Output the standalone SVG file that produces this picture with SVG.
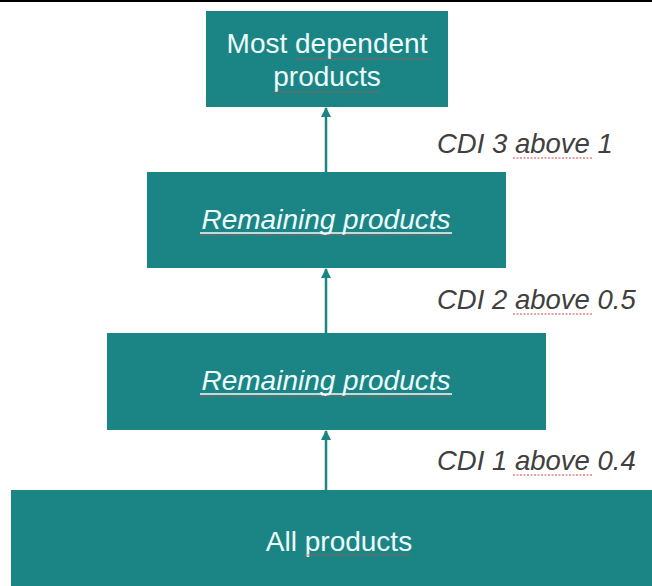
<svg xmlns="http://www.w3.org/2000/svg" width="652" height="586" viewBox="0 0 652 586">
<style>
.box{fill:#1b8585;}
.t{font-family:"Liberation Sans",Arial,sans-serif;font-size:28px;fill:#eefcfc;text-anchor:middle;}
.it{font-style:italic;}
.lbl{font-family:"Liberation Sans",Arial,sans-serif;font-size:27.5px;font-style:italic;fill:#404040;}
.conn{stroke:#1b8585;stroke-width:2.5;fill:none;marker-end:url(#ah);}
.sq{stroke:#d04848;stroke-width:1.2;stroke-dasharray:2 1.5;fill:none;}
.ul{stroke:#eefcfc;stroke-width:1.5;}
</style>
<defs>
<marker id="ah" viewBox="0 0 10 10" refX="9" refY="5" markerWidth="4" markerHeight="4" orient="auto">
<path d="M0,0 L10,5 L0,10 z" fill="#1b8585"/>
</marker>
</defs>
<rect width="652" height="586" fill="#ffffff"/>
<line x1="0" y1="1" x2="652" y2="1" stroke="#000" stroke-width="2"/>
<g id="connectors">
<line class="conn" x1="326" y1="172" x2="326" y2="108"/>
<line class="conn" x1="326" y1="333" x2="326" y2="269"/>
<line class="conn" x1="326" y1="490" x2="326" y2="431"/>
</g>
<g id="node-most">
<rect class="box" x="206" y="11" width="242" height="96"/>
<text class="t" x="327" y="53">Most dependent</text>
<text class="t" x="327" y="86">products</text>
<line class="sq" x1="296" y1="59" x2="430" y2="59"/>
<line class="sq" x1="273" y1="92" x2="381" y2="92"/>
</g>
<g id="node-remaining2">
<rect class="box" x="147" y="172" width="359" height="96"/>
<text class="t it" x="326" y="229">Remaining products</text>
<line class="ul" x1="200" y1="233" x2="452" y2="233"/>
<line class="sq" x1="200" y1="235" x2="452" y2="235"/>
</g>
<g id="node-remaining1">
<rect class="box" x="107" y="333" width="439" height="97"/>
<text class="t it" x="326" y="390">Remaining products</text>
<line class="ul" x1="200" y1="394" x2="452" y2="394"/>
<line class="sq" x1="200" y1="396" x2="452" y2="396"/>
</g>
<g id="node-all">
<rect class="box" x="11" y="490" width="641" height="96"/>
<text class="t" x="339" y="551">All products</text>
<line class="sq" x1="304" y1="555" x2="412" y2="555"/>
</g>
<g id="labels">
<text class="lbl" x="437" y="153">CDI 3 above 1</text>
<line class="sq" x1="513" y1="158" x2="592" y2="158"/>
<text class="lbl" x="437" y="309">CDI 2 above 0.5</text>
<line class="sq" x1="513" y1="314" x2="592" y2="314"/>
<text class="lbl" x="437" y="470">CDI 1 above 0.4</text>
<line class="sq" x1="513" y1="475" x2="592" y2="475"/>
</g>
</svg>
